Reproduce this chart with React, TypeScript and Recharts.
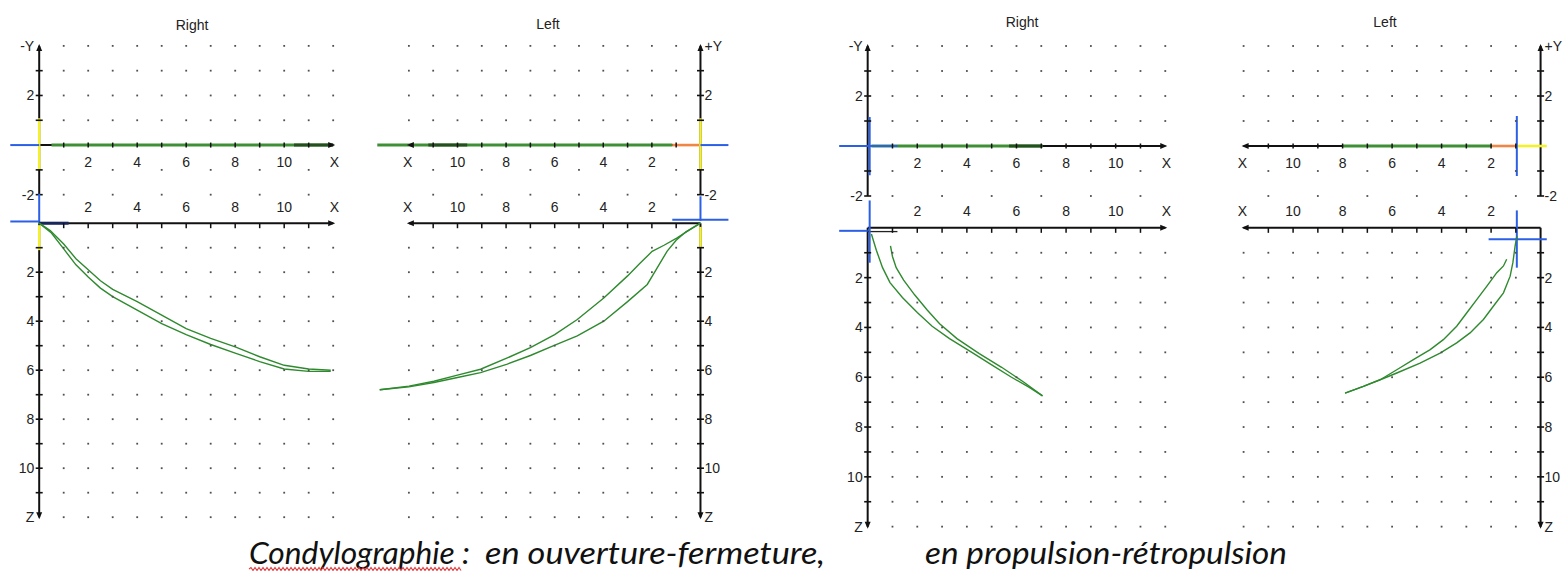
import React from "react";
import { ComposedChart, XAxis, YAxis, Line, Scatter, ReferenceLine } from "recharts";

type P = { x: number; y: number };
type Seg = { kind: string; x1: number; y1: number; x2: number; y2: number };

// grid and axis ticks (mm)
const GRID_COLS = [1, 2, 3, 4, 5, 6, 7, 8, 9, 10, 11, 12];
const UPPER_ROWS = [4, 3, 2, 1, -1, -2];
const LOWER_ROWS = [1, 2, 3, 4, 5, 6, 7, 8, 9, 10, 11, 12];
const X_TICKS = [1, 2, 3, 4, 5, 6, 7, 8, 9, 10, 11];
const X_LABELS = [2, 4, 6, 8, 10];
const Y_TICKS = [3, 2, 1, -1, -2];
const Y_LABELS = [2, -2];
const Z_TICKS = [1, 2, 3, 4, 5, 6, 7, 8, 9, 10, 11];
const Z_LABELS = [2, 4, 6, 8, 10];
const AXIS_END = 12;
const Y_TOP = 4;
const Y_BOTTOM = -2;

// ouverture-fermeture, right condyle (X, Z)
const R1_OPEN: P[] = [
  { x: 0, y: 0 }, { x: 0.45, y: 0.3 }, { x: 1, y: 0.85 }, { x: 1.5, y: 1.45 }, { x: 2, y: 1.9 },
  { x: 2.5, y: 2.35 }, { x: 3, y: 2.7 }, { x: 4, y: 3.2 }, { x: 5, y: 3.75 }, { x: 6, y: 4.3 },
  { x: 7, y: 4.7 }, { x: 8, y: 5.05 }, { x: 9, y: 5.45 }, { x: 10, y: 5.8 }, { x: 11, y: 5.95 },
  { x: 11.9, y: 6.0 },
];
const R1_CLOSE: P[] = [
  { x: 0, y: 0 }, { x: 0.5, y: 0.4 }, { x: 1, y: 1.05 }, { x: 1.5, y: 1.7 }, { x: 2, y: 2.2 },
  { x: 2.5, y: 2.65 }, { x: 3, y: 3.0 }, { x: 4, y: 3.55 }, { x: 5, y: 4.1 }, { x: 6, y: 4.55 },
  { x: 7, y: 4.95 }, { x: 8, y: 5.3 }, { x: 9, y: 5.65 }, { x: 10, y: 5.95 }, { x: 11, y: 6.05 },
  { x: 11.9, y: 6.05 },
];
// ouverture-fermeture, left condyle
const L1_OPEN: P[] = [
  { x: 0, y: 0 }, { x: 0.5, y: 0.3 }, { x: 0.96, y: 0.6 }, { x: 1.5, y: 0.9 }, { x: 1.99, y: 1.15 },
  { x: 2.5, y: 1.65 }, { x: 3, y: 2.15 }, { x: 3.98, y: 3.05 }, { x: 5.07, y: 3.93 }, { x: 6, y: 4.55 },
  { x: 7, y: 5.08 }, { x: 7.95, y: 5.5 }, { x: 9.05, y: 5.96 }, { x: 10, y: 6.2 }, { x: 10.97, y: 6.45 },
  { x: 12, y: 6.65 }, { x: 13.2, y: 6.8 },
];
const L1_CLOSE: P[] = [
  { x: 0, y: 0 }, { x: 0.6, y: 0.35 }, { x: 1, y: 0.7 }, { x: 1.37, y: 1.14 }, { x: 1.8, y: 1.85 },
  { x: 2.19, y: 2.5 }, { x: 3, y: 3.2 }, { x: 3.98, y: 4.0 }, { x: 5.07, y: 4.6 }, { x: 6.04, y: 5.0 },
  { x: 7, y: 5.4 }, { x: 7.95, y: 5.75 }, { x: 9.05, y: 6.1 }, { x: 10, y: 6.3 }, { x: 10.97, y: 6.5 },
  { x: 12, y: 6.68 }, { x: 13.2, y: 6.8 },
];
// propulsion-retropulsion, right condyle
const R2_OUT: P[] = [
  { x: 0.15, y: 0.25 }, { x: 0.35, y: 0.9 }, { x: 0.6, y: 1.6 }, { x: 0.9, y: 2.2 }, { x: 1.4, y: 2.8 },
  { x: 2.0, y: 3.4 }, { x: 2.6, y: 3.95 }, { x: 3.3, y: 4.45 }, { x: 4.2, y: 5.0 }, { x: 5.0, y: 5.5 },
  { x: 5.8, y: 6.0 }, { x: 6.5, y: 6.4 }, { x: 7.05, y: 6.75 },
];
const R2_BACK: P[] = [
  { x: 0.92, y: 0.72 }, { x: 1.0, y: 1.15 }, { x: 1.15, y: 1.6 }, { x: 1.45, y: 2.1 }, { x: 1.9, y: 2.7 },
  { x: 2.4, y: 3.3 }, { x: 2.9, y: 3.85 }, { x: 3.6, y: 4.45 }, { x: 4.5, y: 5.05 }, { x: 5.4, y: 5.6 },
  { x: 6.3, y: 6.2 }, { x: 7.05, y: 6.75 },
];
// propulsion-retropulsion, left condyle
const L2_OUT: P[] = [
  { x: 1.37, y: 1.26 }, { x: 1.5, y: 1.53 }, { x: 1.77, y: 1.8 }, { x: 2.17, y: 2.34 }, { x: 2.58, y: 2.88 },
  { x: 2.98, y: 3.41 }, { x: 3.39, y: 3.95 }, { x: 3.93, y: 4.49 }, { x: 4.46, y: 4.89 }, { x: 5.14, y: 5.29 },
  { x: 5.81, y: 5.7 }, { x: 6.48, y: 6.1 }, { x: 7.16, y: 6.37 }, { x: 7.9, y: 6.64 },
];
const L2_BACK: P[] = [
  { x: 0.96, y: 0.32 }, { x: 1.03, y: 0.73 }, { x: 1.12, y: 1.4 }, { x: 1.23, y: 1.94 }, { x: 1.5, y: 2.61 },
  { x: 1.91, y: 3.15 }, { x: 2.31, y: 3.68 }, { x: 2.85, y: 4.22 }, { x: 3.39, y: 4.62 }, { x: 4.06, y: 5.03 },
  { x: 4.87, y: 5.43 }, { x: 5.81, y: 5.83 }, { x: 6.48, y: 6.1 }, { x: 7.16, y: 6.37 }, { x: 7.9, y: 6.64 },
];

// X-Y traces (upper plots)
const R1_TOP: P[] = [{ x: 0.5, y: 0 }, { x: 12, y: 0 }];
const R1_TOP_DARK: P[] = [{ x: 10.4, y: 0 }, { x: 12, y: 0 }];
const L1_TOP: P[] = [{ x: 1.16, y: 0 }, { x: 13.3, y: 0 }];
const L1_TOP_DARK: P[] = [{ x: 9.6, y: 0 }, { x: 11.2, y: 0 }];
const L1_TOP_ORANGE: P[] = [{ x: 0, y: 0 }, { x: 1.16, y: 0 }];
const R2_TOP: P[] = [{ x: 0.15, y: 0 }, { x: 7.05, y: 0 }];
const R2_TOP_DARK: P[] = [{ x: 5.7, y: 0 }, { x: 7.05, y: 0 }];
const L2_TOP: P[] = [{ x: 2, y: 0 }, { x: 8, y: 0 }];
const L2_TOP_ORANGE: P[] = [{ x: 0.96, y: 0 }, { x: 2, y: 0 }];
const L2_TOP_YELLOW: P[] = [{ x: -0.25, y: 0 }, { x: 0.96, y: 0 }];

// cursor marks
const R1_UP_MARKS: Seg[] = [
  { kind: "yellow", x1: 0, y1: 1.08, x2: 0, y2: -1.0 },
  { kind: "blue", x1: -1.18, y1: 0, x2: 0, y2: 0 },
];
const R1_LOW_MARKS: Seg[] = [
  { kind: "blue", x1: 0, y1: -1.2, x2: 0, y2: 0 },
  { kind: "blue", x1: -1.18, y1: -0.07, x2: 0, y2: -0.07 },
  { kind: "navy", x1: 0, y1: 0, x2: 1.2, y2: 0 },
  { kind: "yellow", x1: 0, y1: 0.08, x2: 0, y2: 1.1 },
];
const L1_UP_MARKS: Seg[] = [
  { kind: "yellow", x1: 0, y1: 1.08, x2: 0, y2: -1.0 },
  { kind: "blue", x1: 0, y1: 0, x2: -1.15, y2: 0 },
];
const L1_LOW_MARKS: Seg[] = [
  { kind: "blue", x1: 0, y1: -1.1, x2: 0, y2: -0.1 },
  { kind: "blue", x1: 1.16, y1: -0.14, x2: -1.15, y2: -0.14 },
  { kind: "yellow", x1: 0, y1: 0.15, x2: 0, y2: 1.0 },
];
const R2_UP_MARKS: Seg[] = [
  { kind: "blue", x1: 0.08, y1: 1.16, x2: 0.08, y2: -1.17 },
  { kind: "blue", x1: -1.15, y1: 0, x2: 1.2, y2: 0 },
];
const R2_LOW_MARKS: Seg[] = [
  { kind: "black", x1: 0, y1: 0.15, x2: 1.2, y2: 0.15 },
  { kind: "blue", x1: 0.08, y1: -1.1, x2: 0.08, y2: 1.4 },
  { kind: "blue", x1: -1.15, y1: 0.12, x2: 0, y2: 0.12 },
];
const L2_UP_MARKS: Seg[] = [
  { kind: "blue", x1: 0.96, y1: 1.2, x2: 0.96, y2: -1.2 },
];
const L2_LOW_MARKS: Seg[] = [
  { kind: "blue", x1: 0.96, y1: -0.7, x2: 0.96, y2: 1.6 },
  { kind: "blue", x1: 2.1, y1: 0.46, x2: -0.25, y2: 0.46 },
];

const MARK_STYLE: Record<string, { stroke: string; w: number }> = {
  blue: { stroke: "#2a5fe6", w: 2 },
  yellow: { stroke: "#f4f02a", w: 2.4 },
  orange: { stroke: "#ee8a4a", w: 2.5 },
  navy: { stroke: "#18275a", w: 3 },
  black: { stroke: "#222", w: 1.3 },
};
const TRACE_STYLE: Record<string, { stroke: string; w: number }> = {
  green: { stroke: "#3f8f36", w: 3 },
  dark: { stroke: "#24501f", w: 3 },
  orange: { stroke: "#ef8646", w: 2.6 },
  yellow: { stroke: "#f4f02a", w: 2.6 },
};

type PanelDef = {
  title: string;
  side: "R" | "L";
  ax: number; u: number;
  y0: number; vu: number;
  z0: number; vl: number;
  titleX: number; titleY: number;
  curves: P[][];
  top: { pts: P[]; kind: string }[];
  upMarks: Seg[];
  lowMarks: Seg[];
};

const PANELS: PanelDef[] = [
  {
    title: "Right", side: "R", ax: 39.3, u: 24.5, y0: 145, vu: 24.8, z0: 223.5, vl: 24.5,
    titleX: 192, titleY: 25, curves: [R1_OPEN, R1_CLOSE],
    top: [{ pts: R1_TOP, kind: "green" }, { pts: R1_TOP_DARK, kind: "dark" }],
    upMarks: R1_UP_MARKS, lowMarks: R1_LOW_MARKS,
  },
  {
    title: "Left", side: "L", ax: 700, u: 24.3, y0: 145, vu: 24.8, z0: 223.5, vl: 24.5,
    titleX: 548, titleY: 24, curves: [L1_OPEN, L1_CLOSE],
    top: [{ pts: L1_TOP, kind: "green" }, { pts: L1_TOP_DARK, kind: "dark" }, { pts: L1_TOP_ORANGE, kind: "orange" }],
    upMarks: L1_UP_MARKS, lowMarks: L1_LOW_MARKS,
  },
  {
    title: "Right", side: "R", ax: 868, u: 24.8, y0: 145.7, vu: 25, z0: 227.5, vl: 24.9,
    titleX: 1022, titleY: 22, curves: [R2_OUT, R2_BACK],
    top: [{ pts: R2_TOP, kind: "green" }, { pts: R2_TOP_DARK, kind: "dark" }],
    upMarks: R2_UP_MARKS, lowMarks: R2_LOW_MARKS,
  },
  {
    title: "Left", side: "L", ax: 1540.5, u: 24.75, y0: 145.7, vu: 25, z0: 227.5, vl: 24.9,
    titleX: 1385, titleY: 22, curves: [L2_OUT, L2_BACK],
    top: [{ pts: L2_TOP, kind: "green" }, { pts: L2_TOP_ORANGE, kind: "orange" }, { pts: L2_TOP_YELLOW, kind: "yellow" }],
    upMarks: L2_UP_MARKS, lowMarks: L2_LOW_MARKS,
  },
];

const M = 40;
const X_DOMAIN: [number, number] = [-1.6, 13.6];
const UP_DOMAIN: [number, number] = [-2.6, 4.6];
const LOW_DOMAIN: [number, number] = [-1.6, 12.6];
const FONT = "'Liberation Sans', Arial, sans-serif";
const CURVE_COLOR = "#2f8a2f";

const gridDot = (p: any) => (
  <rect x={p.cx - 0.9} y={p.cy - 0.9} width={1.8} height={1.8} fill="#505050" />
);
const axisTickH = (p: any) => (
  <line x1={p.cx - 3.5} x2={p.cx + 3.5} y1={p.cy} y2={p.cy} stroke="#111" strokeWidth={1.6} />
);
const axisTickCross = (p: any) => (
  <line x1={p.cx} x2={p.cx} y1={p.cy - 2.5} y2={p.cy + 2.5} stroke="#111" strokeWidth={1.5} />
);
const axisTickDown = (p: any) => (
  <line x1={p.cx} x2={p.cx} y1={p.cy} y2={p.cy + 5} stroke="#111" strokeWidth={1.5} />
);
const arrowShape = (p: any) => {
  const d = p.payload?.dir ?? p.dir;
  const { cx, cy } = p;
  const L = 7;
  const W = 3;
  let pts = "";
  if (d === "up") pts = `${cx},${cy - 2} ${cx - W},${cy - 2 + L} ${cx + W},${cy - 2 + L}`;
  if (d === "down") pts = `${cx},${cy + 2} ${cx - W},${cy + 2 - L} ${cx + W},${cy + 2 - L}`;
  if (d === "right") pts = `${cx + 2},${cy} ${cx + 2 - L},${cy - W} ${cx + 2 - L},${cy + W}`;
  if (d === "left") pts = `${cx - 2},${cy} ${cx - 2 + L},${cy - W} ${cx - 2 + L},${cy + W}`;
  return <polygon points={pts} fill="#111" />;
};
const textShape = (anchor: "start" | "middle" | "end", dx: number) => (p: any) => (
  <text
    x={p.cx + dx}
    y={p.cy}
    textAnchor={anchor}
    dominantBaseline="central"
    fontFamily={FONT}
    fontSize={14}
    fill="#222"
  >
    {p.payload?.text ?? p.text}
  </text>
);

function frameX(p: PanelDef) {
  const plotW = p.u * (X_DOMAIN[1] - X_DOMAIN[0]);
  const plotLeft = p.side === "R" ? p.ax + p.u * X_DOMAIN[0] : p.ax - p.u * X_DOMAIN[1];
  return { left: plotLeft - M, width: plotW + 2 * M };
}

function markLines(marks: Seg[], prefix: string) {
  return marks.map((s, i) => (
    <ReferenceLine
      key={`${prefix}-m${i}`}
      segment={[{ x: s.x1, y: s.y1 }, { x: s.x2, y: s.y2 }]}
      stroke={MARK_STYLE[s.kind].stroke}
      strokeWidth={MARK_STYLE[s.kind].w}
      ifOverflow="visible"
    />
  ));
}

function upperChart(p: PanelDef, idx: number) {
  const fx = frameX(p);
  const plotTop = p.y0 - p.vu * UP_DOMAIN[1];
  const plotH = p.vu * (UP_DOMAIN[1] - UP_DOMAIN[0]);
  const sideAnchor = p.side === "R" ? "end" : "start";
  const sideDx = p.side === "R" ? -5 : 4;
  const grid = GRID_COLS.flatMap((c) =>
    UPPER_ROWS.filter((r) => r > 0 || c % 2 === 1).map((r) => ({ x: c, y: r }))
  );
  const yLabels = [
    ...Y_LABELS.map((v) => ({ x: 0, y: v, text: String(v) })),
    { x: 0, y: Y_TOP, text: p.side === "R" ? "-Y" : "+Y" },
  ];
  const xLabels = [
    ...X_LABELS.map((v) => ({ x: v, y: -0.68, text: String(v) })),
    { x: AXIS_END + 0.05, y: -0.68, text: "X" },
  ];
  const arrows = [
    { x: 0, y: Y_TOP, dir: "up" },
    { x: AXIS_END, y: 0, dir: p.side === "R" ? "right" : "left" },
  ];
  return (
    <div key={`up${idx}`} style={{ position: "absolute", left: fx.left, top: plotTop - M }}>
      <ComposedChart width={fx.width} height={plotH + 2 * M} margin={{ top: M, right: M, bottom: M, left: M }}>
        <XAxis type="number" dataKey="x" domain={X_DOMAIN} hide reversed={p.side === "L"} />
        <YAxis type="number" dataKey="y" domain={UP_DOMAIN} hide />
        <Scatter data={grid} shape={gridDot} isAnimationActive={false} />
        <ReferenceLine segment={[{ x: 0, y: Y_BOTTOM }, { x: 0, y: Y_TOP }]} stroke="#111" strokeWidth={2} ifOverflow="visible" />
        <ReferenceLine segment={[{ x: 0, y: 0 }, { x: AXIS_END, y: 0 }]} stroke="#111" strokeWidth={2} ifOverflow="visible" />
        <Scatter data={Y_TICKS.map((v) => ({ x: 0, y: v }))} shape={axisTickH} isAnimationActive={false} />
        <Scatter data={X_TICKS.map((v) => ({ x: v, y: 0 }))} shape={axisTickCross} isAnimationActive={false} />
        <Scatter data={arrows} shape={arrowShape} isAnimationActive={false} />
        <Scatter data={yLabels} shape={textShape(sideAnchor, sideDx)} isAnimationActive={false} />
        <Scatter data={xLabels} shape={textShape("middle", 0)} isAnimationActive={false} />
        {p.top.map((t, i) => (
          <Line
            key={`t${i}`}
            data={t.pts}
            dataKey="y"
            type="linear"
            stroke={TRACE_STYLE[t.kind].stroke}
            strokeWidth={TRACE_STYLE[t.kind].w}
            dot={false}
            activeDot={false}
            isAnimationActive={false}
          />
        ))}
        {markLines(p.upMarks, `u${idx}`)}
      </ComposedChart>
    </div>
  );
}

function lowerChart(p: PanelDef, idx: number) {
  const fx = frameX(p);
  const plotTop = p.z0 + p.vl * LOW_DOMAIN[0];
  const plotH = p.vl * (LOW_DOMAIN[1] - LOW_DOMAIN[0]);
  const sideAnchor = p.side === "R" ? "end" : "start";
  const sideDx = p.side === "R" ? -5 : 4;
  const grid = GRID_COLS.flatMap((c) => LOWER_ROWS.map((r) => ({ x: c, y: r })));
  const zLabels = [
    ...Z_LABELS.map((v) => ({ x: 0, y: v, text: String(v) })),
    { x: 0, y: AXIS_END, text: "Z" },
  ];
  const xLabels = [
    ...X_LABELS.map((v) => ({ x: v, y: -0.68, text: String(v) })),
    { x: AXIS_END + 0.05, y: -0.68, text: "X" },
  ];
  const arrows = [
    { x: 0, y: AXIS_END, dir: "down" },
    { x: AXIS_END, y: 0, dir: p.side === "R" ? "right" : "left" },
  ];
  return (
    <div key={`low${idx}`} style={{ position: "absolute", left: fx.left, top: plotTop - M }}>
      <ComposedChart width={fx.width} height={plotH + 2 * M} margin={{ top: M, right: M, bottom: M, left: M }}>
        <XAxis type="number" dataKey="x" domain={X_DOMAIN} hide reversed={p.side === "L"} />
        <YAxis type="number" dataKey="y" domain={LOW_DOMAIN} hide reversed />
        <Scatter data={grid} shape={gridDot} isAnimationActive={false} />
        <ReferenceLine segment={[{ x: 0, y: 0 }, { x: 0, y: AXIS_END }]} stroke="#111" strokeWidth={2} ifOverflow="visible" />
        <ReferenceLine segment={[{ x: 0, y: 0 }, { x: AXIS_END, y: 0 }]} stroke="#111" strokeWidth={2} ifOverflow="visible" />
        <Scatter data={Z_TICKS.map((v) => ({ x: 0, y: v }))} shape={axisTickH} isAnimationActive={false} />
        <Scatter data={X_TICKS.map((v) => ({ x: v, y: 0 }))} shape={axisTickDown} isAnimationActive={false} />
        <Scatter data={arrows} shape={arrowShape} isAnimationActive={false} />
        <Scatter data={zLabels} shape={textShape(sideAnchor, sideDx)} isAnimationActive={false} />
        <Scatter data={xLabels} shape={textShape("middle", 0)} isAnimationActive={false} />
        {markLines(p.lowMarks, `l${idx}`)}
        {p.curves.map((c, i) => (
          <Line
            key={`c${i}`}
            data={c}
            dataKey="y"
            type="linear"
            stroke={CURVE_COLOR}
            strokeWidth={1.4}
            dot={false}
            activeDot={false}
            isAnimationActive={false}
          />
        ))}
      </ComposedChart>
    </div>
  );
}

function squigglePath(x0: number, x1: number, y: number) {
  let d = `M${x0},${y}`;
  let up = true;
  for (let x = x0 + 2; x <= x1; x += 2) {
    d += ` L${x},${y + (up ? -1.5 : 1.5)}`;
    up = !up;
  }
  return d;
}

export default function App() {
  const capStyle = {
    fontFamily: "Lato, 'Open Sans', sans-serif",
    fontStyle: "italic" as const,
    fontSize: 31,
    fill: "#111",
  };
  return (
    <div
      style={{
        position: "absolute",
        left: 0,
        top: 0,
        width: 1567,
        height: 571,
        overflow: "hidden",
        background: "#fff",
      }}
    >
      {PANELS.map((p, i) => (
        <div
          key={`title${i}`}
          style={{
            position: "absolute",
            left: p.titleX - 40,
            top: p.titleY - 9,
            width: 80,
            textAlign: "center",
            fontFamily: FONT,
            fontSize: 14,
            lineHeight: "18px",
            color: "#222",
          }}
        >
          {p.title}
        </div>
      ))}
      {PANELS.map((p, i) => upperChart(p, i))}
      {PANELS.map((p, i) => lowerChart(p, i))}
      <svg width={1567} height={571} style={{ position: "absolute", left: 0, top: 0, pointerEvents: "none" }}>
        <text x={249} y={564} textLength={221} lengthAdjust="spacingAndGlyphs" {...capStyle}>
          Condylographie :
        </text>
        <text x={485} y={564} textLength={340} lengthAdjust="spacingAndGlyphs" {...capStyle}>
          en ouverture-fermeture,
        </text>
        <text x={925} y={564} textLength={362} lengthAdjust="spacingAndGlyphs" {...capStyle}>
          en propulsion-rétropulsion
        </text>
        <path d={squigglePath(249, 461, 569)} stroke="#e03a3a" strokeWidth={1.1} fill="none" />
      </svg>
    </div>
  );
}
